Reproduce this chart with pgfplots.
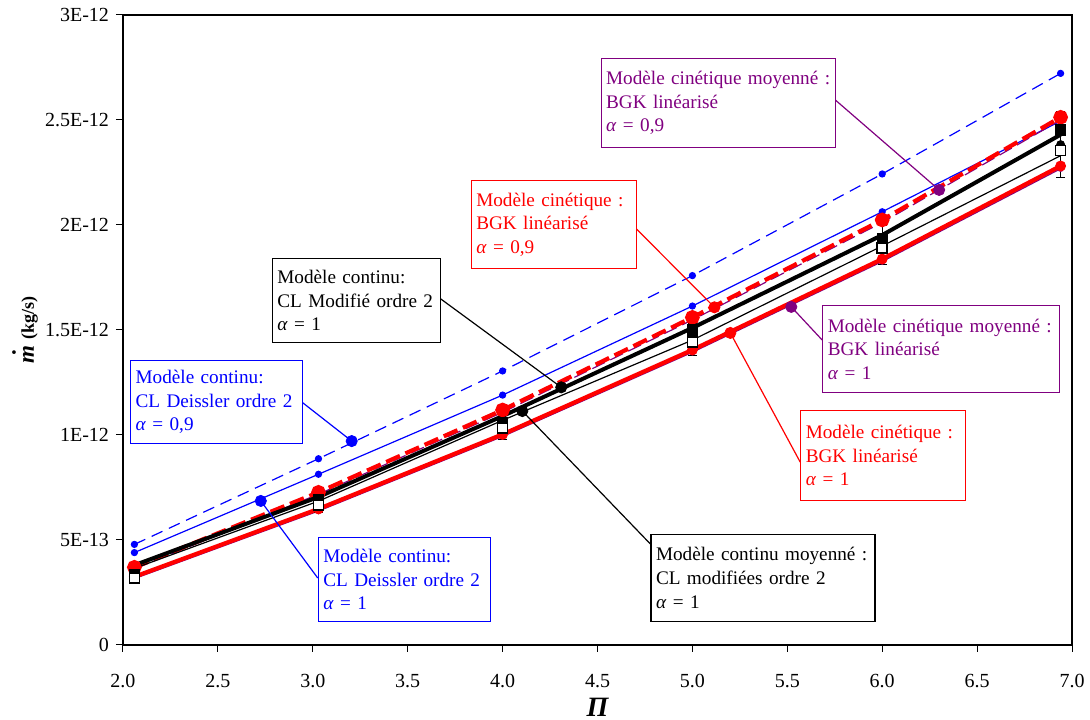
\documentclass[border=0pt]{standalone}
\usepackage{fontspec}
\setmainfont{Liberation Serif}
\usepackage{pgfplots}
\pgfplotsset{compat=1.18}
\definecolor{xlblue}{RGB}{0,0,255}
\definecolor{xlred}{RGB}{255,0,0}
\definecolor{xlpurple}{RGB}{128,0,128}

\hbadness=10000 \hfuzz=20pt
\tikzset{
  callout/.style={fill=white, line width=0.6pt, anchor=north west, align=left,
    inner xsep=2.5pt, inner ysep=1pt, font=\fontsize{9.6}{11.8}\selectfont},
}
\newcommand\lines[3]{\mbox{#1}\\\mbox{#2}\\\mbox{#3}}

\begin{document}
\begin{tikzpicture}
\begin{axis}[
  scale only axis, width=474.5pt, height=315pt,
  xmin=2, xmax=7, ymin=0, ymax=3,
  xtick={2,2.5,3,3.5,4,4.5,5,5.5,6,6.5,7},
  ytick={0,0.5,1,1.5,2,2.5,3},
  yticklabels={0,5E-13,1E-12,1.5E-12,2E-12,2.5E-12,3E-12},
  xticklabel style={yshift=-7.5pt, /pgf/number format/.cd, fixed, fixed zerofill, precision=1, assume math mode=true},
  ticklabel style={font=\fontsize{10}{12}\selectfont},
  tick align=outside, xtick pos=bottom, ytick pos=left,
  major tick length=3.5pt,
  tick style={black, line width=0.5pt},
  axis line style={line width=0.6pt},
  clip=false,
  xlabel={\fontsize{14}{15}\selectfont\bfseries\itshape Π},
  xlabel style={at={(axis description cs:0.5,0)}, anchor=center, yshift=-31pt},
  ylabel={\bfseries\fontsize{11.5}{12}\selectfont\textit{m}\kern-0.42em\raisebox{0.8em}{.}\kern0.22em\fontsize{9}{10}\selectfont\ (kg/s)},
  ylabel style={at={(axis description cs:0,0.5)}, anchor=center, yshift=49pt},
]

% Modèle continu, CL Deissler ordre 2, alpha = 0,9
\addplot[xlblue, line width=0.6pt, dash pattern=on 6pt off 3.5pt, mark=*, mark size=1.5pt, mark options={solid}]
  coordinates {(2.06,0.479) (3.03,0.887) (4.00,1.305) (5.00,1.759) (6.00,2.243) (6.94,2.722)};
% Modèle continu, CL Deissler ordre 2, alpha = 1
\addplot[xlblue, line width=0.6pt, mark=*, mark size=1.5pt]
  coordinates {(2.06,0.440) (3.03,0.813) (4.00,1.190) (5.00,1.614) (6.00,2.063) (6.94,2.495)};
% Modèle cinétique moyenné, BGK linéarisé, alpha = 0,9
\addplot[xlpurple, line width=0.6pt, dash pattern=on 7pt off 3pt, mark=*, mark size=1.3pt, mark options={solid}]
  coordinates {(2.06,0.362) (3.03,0.718) (4.00,1.108) (5.00,1.548) (6.00,2.012) (6.94,2.500)};
% Modèle cinétique moyenné, BGK linéarisé, alpha = 1
\addplot[xlpurple, line width=0.6pt, mark=*, mark size=1.3pt]
  coordinates {(2.06,0.316) (3.03,0.638) (4.00,0.993) (5.00,1.394) (6.00,1.826) (6.94,2.268)};
% Modèle cinétique, BGK linéarisé, alpha = 0,9
\addplot[xlred, line width=2.1pt, dash pattern=on 7.5pt off 3pt, mark=*, mark size=2.6pt, mark options={solid}]
  coordinates {(2.06,0.370) (3.03,0.727) (4.00,1.119) (5.00,1.560) (6.00,2.024) (6.94,2.513)};
% Modèle cinétique, BGK linéarisé, alpha = 1
\addplot[xlred, line width=2.1pt, mark=*, mark size=1.6pt]
  coordinates {(2.06,0.325) (3.03,0.648) (4.00,1.003) (5.00,1.405) (6.00,1.838) (6.94,2.281)};
% Modèle continu, CL modifié ordre 2, alpha = 1
\addplot[black, line width=2pt, mark=none]
  coordinates {(2.06,0.380) (3.03,0.705) (4.00,1.090) (5.00,1.510) (6.00,1.952) (6.94,2.430)};
% Modèle continu moyenné, CL modifiées ordre 2, alpha = 1
\addplot[black, line width=0.6pt, mark=none]
  coordinates {(2.06,0.365) (3.03,0.685) (4.00,1.070) (5.00,1.452) (6.00,1.900) (6.94,2.330)};

% Mesures : barres d'erreur
\addplot[black, only marks, mark=none,
  error bars/.cd, y dir=both, y explicit,
  error bar style={black, line width=0.6pt},
  error mark options={black, rotate=90, mark size=2.2pt, line width=0.6pt}]
  coordinates {(2.06,0.325) +- (0,0.025) (3.03,0.665) +- (0,0.035) (4.00,1.030) +- (0,0.053)
               (5.00,1.455) +- (0,0.078) (6.00,1.905) +- (0,0.095) (6.94,2.383) +- (0,0.156)};
% Mesures : carrés pleins et carrés vides
\addplot[black, only marks, mark=square*, mark size=2.6pt]
  coordinates {(2.06,0.335) (3.03,0.690) (4.00,1.060) (5.00,1.500) (6.00,1.937) (6.94,2.452)};
\addplot[black, only marks, mark=square*, mark size=2.5pt, mark options={fill=white, line width=0.8pt}]
  coordinates {(2.06,0.320) (3.03,0.667) (4.00,1.033) (5.00,1.444) (6.00,1.890) (6.94,2.354)};

% Traits de rappel des étiquettes
\addplot[xlpurple, line width=0.6pt] coordinates {(5.747,2.600) (6.300,2.167)};
\addplot[xlred, line width=0.6pt] coordinates {(4.700,1.986) (5.116,1.608)};
\addplot[black, line width=0.6pt] coordinates {(3.668,1.652) (4.309,1.227)};
\addplot[xlblue, line width=0.6pt] coordinates {(2.942,1.157) (3.205,0.971)};
\addplot[xlblue, line width=0.6pt] coordinates {(2.726,0.686) (3.026,0.319)};
\addplot[black, line width=0.6pt] coordinates {(4.104,1.114) (4.784,0.476)};
\addplot[xlpurple, line width=0.6pt] coordinates {(5.521,1.610) (5.684,1.452)};
\addplot[xlred, line width=0.6pt] coordinates {(5.200,1.486) (5.568,0.871)};

\addplot[xlpurple, only marks, mark=*, mark size=2.8pt] coordinates {(6.300,2.167) (5.521,1.610)};
\addplot[xlred, only marks, mark=*, mark size=2.8pt] coordinates {(5.116,1.608) (5.200,1.486)};
\addplot[black, only marks, mark=*, mark size=2.8pt] coordinates {(4.309,1.227) (4.104,1.114)};
\addplot[xlblue, only marks, mark=*, mark size=2.8pt] coordinates {(3.205,0.971) (2.726,0.686)};

% Étiquettes
\node[callout, draw=xlpurple, text=xlpurple, text width=112pt, minimum height=44.5pt] at (axis cs:4.516,2.795)
  {\lines{Modèle cinétique moyenné :}{BGK linéarisé}{\textit{α} = 0,9}};
\node[callout, draw=xlred, text=xlred, text width=77.5pt, minimum height=44pt] at (axis cs:3.832,2.214)
  {\lines{Modèle cinétique :}{BGK linéarisé}{\textit{α} = 0,9}};
\node[callout, draw=black, text=black, text width=79pt, minimum height=42pt] at (axis cs:2.784,1.843)
  {\lines{Modèle continu:}{CL Modifié ordre 2}{\textit{α} = 1}};
\node[callout, draw=xlblue, text=xlblue, text width=81pt, minimum height=41.5pt] at (axis cs:2.037,1.357)
  {\lines{Modèle continu:}{CL Deissler ordre 2}{\textit{α} = 0,9}};
\node[callout, draw=xlblue, text=xlblue, text width=81pt, minimum height=42pt] at (axis cs:3.026,0.514)
  {\lines{Modèle continu:}{CL Deissler ordre 2}{\textit{α} = 1}};
\node[callout, draw=black, text=black, text width=107pt, minimum height=43.5pt] at (axis cs:4.779,0.529)
  {\lines{Modèle continu moyenné :}{CL modifiées ordre 2}{\textit{α} = 1}};
\node[callout, draw=xlpurple, text=xlpurple, text width=113.5pt, minimum height=43.5pt] at (axis cs:5.684,1.619)
  {\lines{Modèle cinétique moyenné :}{BGK linéarisé}{\textit{α} = 1}};
\node[callout, draw=xlred, text=xlred, text width=77.5pt, minimum height=45pt] at (axis cs:5.568,1.119)
  {\lines{Modèle cinétique :}{BGK linéarisé}{\textit{α} = 1}};
\end{axis}
\pgfresetboundingbox
\path[use as bounding box] ([shift={(-61.5pt,-37.5pt)}]current axis.south west) rectangle ([shift={(9pt,7.5pt)}]current axis.north east);
\end{tikzpicture}
\end{document}
